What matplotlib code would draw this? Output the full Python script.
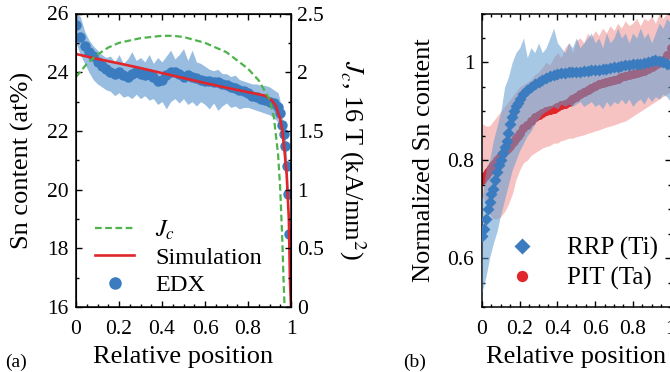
import numpy as np
import matplotlib
matplotlib.use("Agg")
import matplotlib.pyplot as plt
from matplotlib.ticker import MultipleLocator

plt.rcParams["font.family"] = "Liberation Serif"
plt.rcParams["mathtext.fontset"] = "stix"

# ---- panel (a): EDX profile, simulation, Jc ----
edx_pos = [0.00, 0.02, 0.04, 0.06, 0.08, 0.10, 0.12, 0.14, 0.16, 0.18,
           0.20, 0.22, 0.24, 0.26, 0.28, 0.30, 0.32, 0.34, 0.36, 0.38,
           0.40, 0.42, 0.44, 0.46, 0.48, 0.50, 0.52, 0.54, 0.56, 0.58,
           0.60, 0.62, 0.64, 0.66, 0.68, 0.70, 0.72, 0.74, 0.76, 0.78,
           0.80, 0.82, 0.84, 0.86, 0.88, 0.90, 0.92, 0.94, 0.95, 0.958,
           0.966, 0.974, 0.980, 0.986, 0.990]
edx_sn = [25.6, 25.2, 24.9, 24.7, 24.55, 24.35, 24.2, 24.1, 24.0, 23.95,
          24.0, 23.9, 23.85, 23.95, 24.0, 23.95, 23.9, 23.95, 23.85, 23.7,
          23.75, 23.9, 24.0, 24.0, 23.95, 23.85, 23.9, 23.85, 23.8, 23.75,
          23.7, 23.7, 23.65, 23.65, 23.6, 23.55, 23.5, 23.45, 23.4, 23.35,
          23.3, 23.2, 23.15, 23.1, 23.05, 23.0, 22.95, 22.8, 22.6, 22.2,
          21.9, 21.5, 20.8, 19.85, 18.5]
edx_hi = [26.0, 25.9, 25.4, 25.1, 24.9, 24.75, 24.6, 24.5, 24.55, 24.35,
          24.6, 24.3, 24.45, 24.7, 24.4, 24.5, 24.35, 24.6, 24.3, 24.5,
          24.35, 24.55, 24.75, 24.45, 24.6, 24.8, 24.4, 24.75, 24.35, 24.3,
          24.2, 24.1, 24.05, 24.1, 23.95, 23.95, 23.85, 23.9, 23.75, 23.7,
          23.65, 23.6, 23.6, 23.55, 23.55, 23.5, 23.4, 23.3, 23.0, 22.5,
          22.2, 21.8, 21.1, 20.1, 18.7]
edx_lo = [25.0, 24.6, 24.3, 24.0, 23.75, 23.6, 23.5, 23.4, 23.35, 23.2,
          23.3, 23.15, 23.2, 23.1, 23.25, 23.1, 23.2, 23.05, 23.1, 22.9,
          23.0, 22.75, 23.0, 23.1, 22.95, 23.1, 22.9, 23.0, 22.85, 23.0,
          22.9, 22.75, 22.95, 22.7, 22.85, 22.95, 22.8, 22.85, 22.75, 22.8,
          22.8, 22.75, 22.7, 22.65, 22.6, 22.55, 22.45, 22.3, 22.2, 21.9,
          21.6, 21.2, 20.5, 19.6, 18.3]

sim_pos = [0.0, 0.1, 0.2, 0.3, 0.4, 0.5, 0.6, 0.7, 0.8, 0.88, 0.91, 0.93,
           0.95, 0.96, 0.97, 0.98, 0.99, 0.995, 1.0]
sim_sn = [24.62, 24.45, 24.3, 24.14, 23.97, 23.8, 23.63, 23.47, 23.32, 23.2,
          23.05, 22.85, 22.4, 22.0, 21.3, 20.5, 19.0, 17.0, 16.0]

jc_pos = [0.0, 0.05, 0.1, 0.15, 0.2, 0.3, 0.4, 0.45, 0.5, 0.6, 0.7, 0.8,
          0.85, 0.9, 0.92, 0.94, 0.95, 0.96, 0.965, 0.97]
jc_val = [1.96, 2.07, 2.15, 2.21, 2.25, 2.29, 2.31, 2.31, 2.30, 2.25, 2.17,
          2.03, 1.93, 1.77, 1.62, 1.3, 1.0, 0.55, 0.25, 0.0]

# ---- panel (b): normalized Sn, RRP vs PIT ----
mark_pos = [0.00, 0.01, 0.02, 0.03, 0.04, 0.05, 0.06, 0.07, 0.08, 0.09,
            0.10, 0.11, 0.12, 0.13, 0.14, 0.15, 0.16, 0.17, 0.18, 0.19,
            0.20, 0.22, 0.24, 0.26, 0.28, 0.30, 0.32, 0.34, 0.36, 0.38,
            0.40, 0.42, 0.44, 0.46, 0.48, 0.50, 0.52, 0.54, 0.56, 0.58,
            0.60, 0.62, 0.64, 0.66, 0.68, 0.70, 0.72, 0.74, 0.76, 0.78,
            0.80, 0.82, 0.84, 0.86, 0.88, 0.90, 0.92, 0.94, 0.96, 0.98, 1.00]
rrp = [0.645, 0.66, 0.68, 0.70, 0.715, 0.73, 0.742, 0.76, 0.775, 0.79,
       0.80, 0.815, 0.828, 0.84, 0.856, 0.875, 0.888, 0.90, 0.91, 0.918,
       0.925, 0.935, 0.944, 0.95, 0.955, 0.96, 0.965, 0.968, 0.972, 0.975,
       0.977, 0.978, 0.979, 0.98, 0.98, 0.98, 0.981, 0.982, 0.982, 0.984,
       0.985, 0.985, 0.986, 0.987, 0.988, 0.99, 0.991, 0.993, 0.994, 0.995,
       0.996, 0.997, 0.997, 0.998, 1.0, 1.002, 1.004, 1.003, 1.0, 0.996, 0.995]
pit = [0.76, 0.765, 0.77, 0.775, 0.78, 0.785, 0.79, 0.795, 0.80, 0.805,
       0.81, 0.815, 0.82, 0.822, 0.825, 0.83, 0.835, 0.84, 0.845, 0.85,
       0.855, 0.865, 0.872, 0.88, 0.888, 0.893, 0.897, 0.90, 0.902, 0.905,
       0.908, 0.912, 0.915, 0.92, 0.925, 0.93, 0.935, 0.94, 0.944, 0.948,
       0.952, 0.955, 0.958, 0.96, 0.963, 0.965, 0.967, 0.97, 0.972, 0.975,
       0.977, 0.979, 0.981, 0.983, 0.986, 0.99, 0.994, 0.998, 1.005, 1.015, 1.03]

band_pos = [0.00, 0.02, 0.04, 0.06, 0.08, 0.10, 0.12, 0.14, 0.16, 0.18,
            0.20, 0.22, 0.24, 0.26, 0.28, 0.30, 0.32, 0.34, 0.36, 0.38,
            0.40, 0.42, 0.44, 0.46, 0.48, 0.50, 0.52, 0.54, 0.56, 0.58,
            0.60, 0.62, 0.64, 0.66, 0.68, 0.70, 0.72, 0.74, 0.76, 0.78,
            0.80, 0.82, 0.84, 0.86, 0.88, 0.90, 0.92, 0.94, 0.96, 0.98, 1.00]
rrp_hi = [0.72, 0.78, 0.80, 0.84, 0.87, 0.90, 0.95, 0.97, 1.0, 1.02,
          1.03, 1.05, 1.01, 1.03, 1.02, 1.04, 1.02, 1.03, 1.05, 1.07,
          1.04, 1.03, 1.02, 1.04, 1.03, 1.05, 1.03, 1.04, 1.05, 1.06,
          1.04, 1.05, 1.03, 1.06, 1.04, 1.05, 1.07, 1.05, 1.06, 1.04,
          1.06, 1.05, 1.07, 1.05, 1.06, 1.04, 1.06, 1.08, 1.07, 1.09, 1.08]
rrp_lo = [0.53, 0.56, 0.60, 0.63, 0.655, 0.69, 0.72, 0.75, 0.78, 0.80,
          0.82, 0.835, 0.85, 0.86, 0.875, 0.885, 0.895, 0.90, 0.905, 0.91,
          0.905, 0.915, 0.91, 0.915, 0.91, 0.915, 0.92, 0.91, 0.915, 0.92,
          0.91, 0.915, 0.905, 0.92, 0.91, 0.92, 0.915, 0.925, 0.915, 0.925,
          0.91, 0.92, 0.925, 0.915, 0.93, 0.92, 0.93, 0.925, 0.935, 0.93, 0.92]
pit_hi = [0.875, 0.87, 0.87, 0.88, 0.89, 0.90, 0.91, 0.92, 0.93, 0.94,
          0.95, 0.955, 0.96, 0.965, 0.975, 0.98, 0.99, 1.0, 0.995, 1.01,
          1.02, 1.01, 1.03, 1.04, 1.02, 1.045, 1.05, 1.04, 1.06, 1.05,
          1.065, 1.055, 1.07, 1.06, 1.075, 1.065, 1.08, 1.07, 1.085, 1.075,
          1.08, 1.09, 1.075, 1.09, 1.085, 1.095, 1.08, 1.10, 1.09, 1.10, 1.10]
pit_lo = [0.73, 0.71, 0.69, 0.68, 0.68, 0.685, 0.695, 0.71, 0.73, 0.76,
          0.78, 0.795, 0.80, 0.81, 0.815, 0.82, 0.825, 0.828, 0.83, 0.835,
          0.835, 0.84, 0.842, 0.845, 0.845, 0.848, 0.85, 0.852, 0.855, 0.857,
          0.86, 0.862, 0.865, 0.868, 0.87, 0.872, 0.875, 0.878, 0.88, 0.885,
          0.89, 0.895, 0.90, 0.905, 0.91, 0.915, 0.92, 0.925, 0.93, 0.935, 0.94]

BLUE = "#3a7cbf"
LIGHT_BLUE = "#98bde0"
RED = "#e0262b"
GREEN = "#4db34a"

TICK_FS = 15.5
LABEL_FS = 19
LEG_FS = 17.5


def style_ticks(ax, right=True):
    ax.tick_params(which="both", direction="in", top=True, right=right,
                   labelsize=TICK_FS, width=1.0)
    ax.tick_params(which="major", length=4)
    ax.tick_params(which="minor", length=2.2)
    ax.tick_params(axis="x", which="major", pad=9.5)
    ax.tick_params(axis="y", which="major", pad=5.5)
    for s in ax.spines.values():
        s.set_linewidth(1.1)


def fmt(v, p):
    return f"{v:g}"


fig = plt.figure(figsize=(6.7, 3.72), dpi=100)

# (a)
ax1 = fig.add_axes([76 / 670, 65 / 372, 215 / 670, 293.5 / 372])
ax1.fill_between(edx_pos, edx_lo, edx_hi, color=LIGHT_BLUE, lw=0)
ax1.plot(edx_pos, edx_sn, "o", color=BLUE, ms=7.5, mec="none", label="EDX")
sim_line, = ax1.plot(sim_pos, sim_sn, "-", color=RED, lw=1.9, label="Simulation")
ax1.set_xlim(0, 1)
ax1.set_ylim(16, 26)
ax1.xaxis.set_major_locator(MultipleLocator(0.2))
ax1.xaxis.set_minor_locator(MultipleLocator(0.05))
ax1.yaxis.set_major_locator(MultipleLocator(2))
ax1.yaxis.set_minor_locator(MultipleLocator(1))
ax1.xaxis.set_major_formatter(plt.FuncFormatter(fmt))
style_ticks(ax1, right=False)
ax1.set_xlabel("Relative position", fontsize=LABEL_FS, labelpad=5)
ax1.set_ylabel("Sn content (at%)", fontsize=LABEL_FS, labelpad=9)

ax1r = ax1.twinx()
jc_line, = ax1r.plot(jc_pos, jc_val, "--", color=GREEN, lw=1.6,
                     dashes=(3, 1.6), label="$J_c$")
ax1r.set_ylim(0, 2.5)
ax1r.yaxis.set_major_locator(MultipleLocator(0.5))
ax1r.yaxis.set_minor_locator(MultipleLocator(0.25))
ax1r.yaxis.set_major_formatter(plt.FuncFormatter(fmt))
ax1r.tick_params(which="both", direction="in", labelsize=TICK_FS, width=1.0)
ax1r.tick_params(which="major", length=4, pad=4.5)
ax1r.tick_params(which="minor", length=2.2)
ax1r.set_ylabel("$J_c$, 16 T (kA/mm$^2$)", fontsize=LABEL_FS, rotation=270,
                labelpad=31)

edx_handle = plt.Line2D([], [], ls="none", marker="o", color=BLUE, ms=9, mec="none")
ax1r.legend([jc_line, sim_line, edx_handle], ["$J_c$", "Simulation", "EDX"],
            loc="lower left", bbox_to_anchor=(0.0, -0.03), frameon=False,
            fontsize=LEG_FS, handlelength=1.6, handletextpad=0.85,
            labelspacing=0.22, borderpad=0.3)

# (b)
ax2 = fig.add_axes([482 / 670, 65 / 372, 188.5 / 670, 293.5 / 372])
ax2.fill_between(band_pos, pit_lo, pit_hi, color="#f29a9a", alpha=0.6, lw=0,
                 zorder=1)
ax2.plot(mark_pos, pit, "o", color=RED, ms=6.5, mec="none", label="PIT (Ta)",
         zorder=2)
ax2.fill_between(band_pos, rrp_lo, rrp_hi, color="#5f9bd0", alpha=0.55, lw=0,
                 zorder=3)
ax2.plot(mark_pos, rrp, "D", color=BLUE, ms=6.5, mec="none", label="RRP (Ti)",
         zorder=4)
ax2.set_xlim(0, 1)
ax2.set_ylim(0.5, 1.1)
ax2.xaxis.set_major_locator(MultipleLocator(0.2))
ax2.xaxis.set_minor_locator(MultipleLocator(0.05))
ax2.yaxis.set_major_locator(MultipleLocator(0.2))
ax2.yaxis.set_minor_locator(MultipleLocator(0.05))
ax2.xaxis.set_major_formatter(plt.FuncFormatter(fmt))
ax2.yaxis.set_major_formatter(plt.FuncFormatter(fmt))
style_ticks(ax2)
ax2.set_xlabel("Relative position", fontsize=LABEL_FS, labelpad=5)
ax2.set_ylabel("Normalized Sn content", fontsize=LABEL_FS, labelpad=9)
h, l = ax2.get_legend_handles_labels()
ax2.legend(h[::-1], l[::-1], loc="lower right", bbox_to_anchor=(1.04, -0.01),
           frameon=False, fontsize=18, handlelength=1.2, handletextpad=1.2,
           labelspacing=0.27, borderpad=0.3, markerscale=1.25)

fig.text(5 / 670, 1 - 362 / 372, "(a)", fontsize=14, va="center")
fig.text(403 / 670, 1 - 362 / 372, "(b)", fontsize=14, va="center")

fig.savefig("out.png", dpi=100)
